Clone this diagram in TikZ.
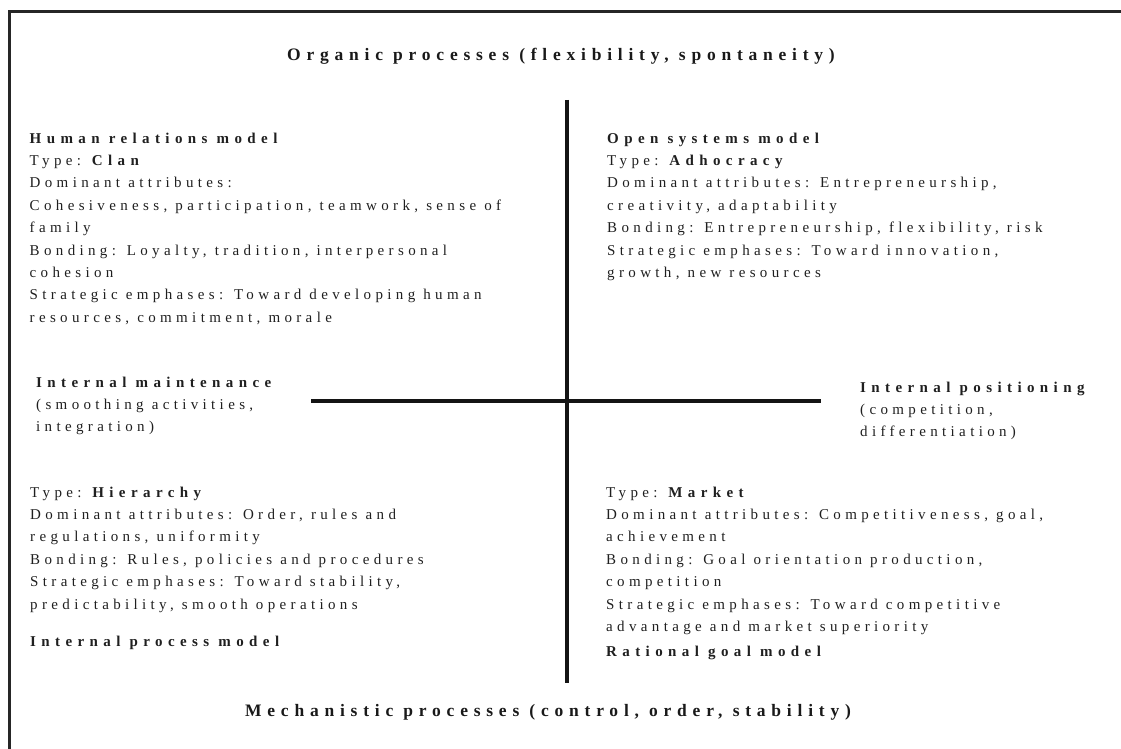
\documentclass[tikz,border=0pt]{standalone}
\usepackage{fontspec}
\setmainfont[LetterSpace=29]{Liberation Serif}
\newcommand{\qlines}[1]{\begin{tabular}[t]{@{}l@{}}#1\end{tabular}}
\newcommand{\hb}[1]{{\bfseries\addfontfeatures{LetterSpace=36}#1}}
\begin{document}
\begin{tikzpicture}[x=1pt,y=-1pt,
  body/.style={anchor=base west, inner sep=0pt, text=black!88, font=\fontsize{15}{22.4}\selectfont},
  head/.style={anchor=base, inner sep=0pt, text=black!90, font=\fontsize{17.5}{24}\selectfont\bfseries\addfontfeatures{LetterSpace=33}},
  axis/.style={line width=4pt, black!92},
  frame/.style={line width=3pt, black!85}]
\useasboundingbox (0,0) rectangle (1121,749);
\coordinate (fbl) at (9,749);
\coordinate (ftl) at (9,12);
\coordinate (ftr) at (1121,12);
\draw[frame] (fbl) -- (ftl) -- (ftr);

\node[head] (organic) at (561,61) {Organic processes (flexibility, spontaneity)};
\node[head] (mech) at (548,716) {Mechanistic processes (control, order, stability)};

\coordinate (vtop) at (567,100);
\coordinate (vbot) at (567,683);
\coordinate (hleft) at (311,401);
\coordinate (hright) at (821,401);
\draw[axis] (vtop) -- (vbot);
\draw[axis] (hleft) -- (hright);

\node[body] (tl) at (29.5,143) {\qlines{\hb{Human relations model}\\
Type: \hb{Clan}\\
Dominant attributes:\\
Cohesiveness, participation, teamwork, sense of\\
family\\
Bonding: Loyalty, tradition, interpersonal\\
cohesion\\
Strategic emphases: Toward developing human\\
resources, commitment, morale}};

\node[body] (tr) at (607,143) {\qlines{\hb{Open systems model}\\
Type: \hb{Adhocracy}\\
Dominant attributes: Entrepreneurship,\\
creativity, adaptability\\
Bonding: Entrepreneurship, flexibility, risk\\
Strategic emphases: Toward innovation,\\
growth, new resources}};

\node[body] (ml) at (36,387) {\qlines{\hb{Internal maintenance}\\
(smoothing activities,\\
integration)}};

\node[body] (mr) at (860,392) {\qlines{\hb{Internal positioning}\\
(competition,\\
differentiation)}};

\node[body] (bl) at (30,497) {\qlines{Type: \hb{Hierarchy}\\
Dominant attributes: Order, rules and\\
regulations, uniformity\\
Bonding: Rules, policies and procedures\\
Strategic emphases: Toward stability,\\
predictability, smooth operations}};
\node[body] (blm) at (30,646) {\hb{Internal process model}};

\node[body] (br) at (606,497) {\qlines{Type: \hb{Market}\\
Dominant attributes: Competitiveness, goal,\\
achievement\\
Bonding: Goal orientation production,\\
competition\\
Strategic emphases: Toward competitive\\
advantage and market superiority}};
\node[body] (brm) at (606,656) {\hb{Rational goal model}};
\end{tikzpicture}
\end{document}
